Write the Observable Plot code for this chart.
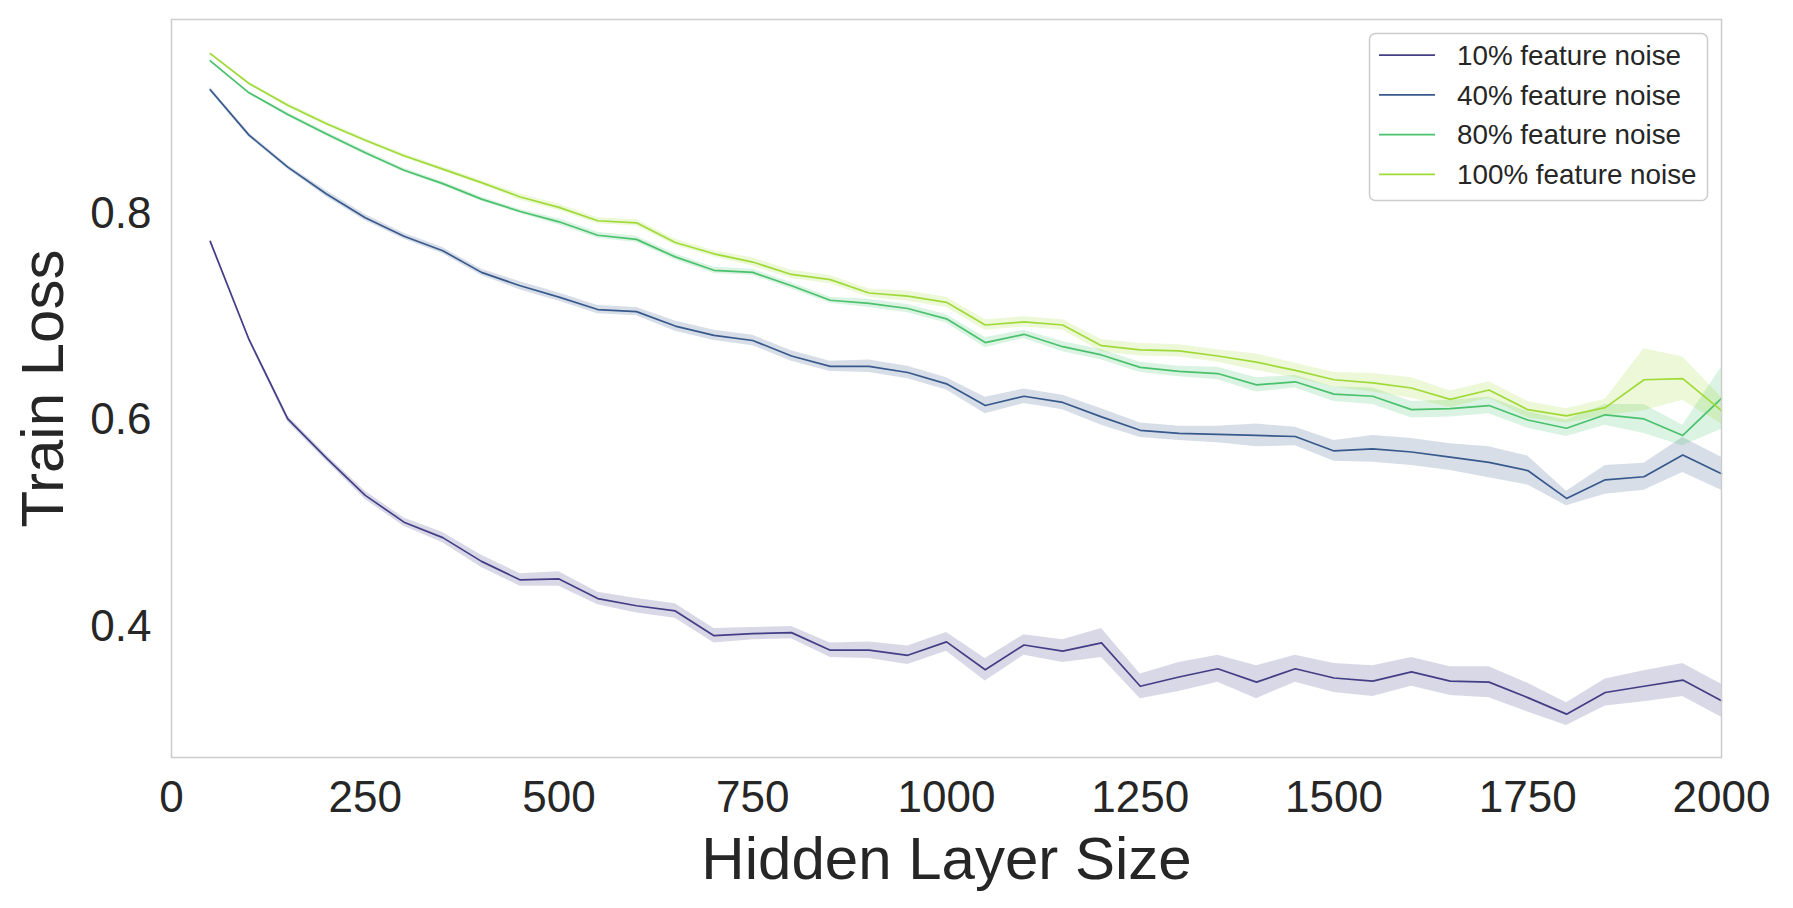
<!DOCTYPE html>
<html><head><meta charset="utf-8">
<script src="https://cdn.jsdelivr.net/npm/d3@7"></script>
<script src="https://cdn.jsdelivr.net/npm/@observablehq/plot@0.6"></script>
<style>html,body{margin:0;padding:0;background:#fff;}</style>
</head><body><div id="chart"></div>
<script>
const hiddenSizes = [50,100,150,200,250,300,350,400,450,500,550,600,650,700,750,800,850,900,950,1000,
  1050,1100,1150,1200,1250,1300,1350,1400,1450,1500,1550,1600,1650,1700,1750,1800,1850,1900,1950,2000];

const seriesNames = ["10% feature noise","40% feature noise","80% feature noise","100% feature noise"];
const seriesColors = ["#433e85","#38598c","#4ac16d","#a0da39"];

const loss10 = [0.773,0.678,0.601,0.563,0.527,0.501,0.486,0.463,0.445,0.446,0.427,0.420,0.415,0.391,0.393,0.394,0.377,0.377,0.372,0.385,
  0.358,0.382,0.376,0.384,0.342,0.351,0.359,0.346,0.359,0.350,0.347,0.356,0.347,0.346,0.331,0.315,0.336,0.342,0.348,0.328];
const loss40 = [0.920,0.876,0.845,0.819,0.796,0.778,0.764,0.743,0.730,0.719,0.707,0.705,0.691,0.682,0.677,0.662,0.652,0.652,0.646,0.635,
  0.614,0.623,0.617,0.603,0.590,0.587,0.586,0.585,0.584,0.570,0.572,0.569,0.564,0.559,0.551,0.524,0.542,0.545,0.566,0.548];
const loss80 = [0.948,0.917,0.896,0.877,0.859,0.842,0.829,0.814,0.802,0.792,0.779,0.775,0.758,0.745,0.743,0.730,0.716,0.713,0.708,0.698,
  0.675,0.683,0.671,0.663,0.651,0.647,0.645,0.634,0.637,0.625,0.623,0.610,0.611,0.614,0.600,0.592,0.605,0.601,0.585,0.621];
const loss100 = [0.955,0.926,0.905,0.887,0.871,0.856,0.843,0.830,0.816,0.806,0.793,0.791,0.772,0.761,0.753,0.741,0.736,0.723,0.720,0.714,
  0.692,0.695,0.692,0.672,0.668,0.667,0.662,0.656,0.648,0.639,0.636,0.631,0.620,0.629,0.610,0.604,0.612,0.639,0.640,0.609];

const err10 = [0.002,0.002,0.003,0.003,0.004,0.004,0.005,0.006,0.006,0.007,0.006,0.007,0.007,0.007,0.006,0.006,0.007,0.008,0.009,0.009,
  0.011,0.010,0.011,0.014,0.012,0.014,0.013,0.016,0.013,0.014,0.015,0.014,0.014,0.015,0.014,0.011,0.013,0.015,0.016,0.016];
const err40 = [0.002,0.002,0.002,0.003,0.003,0.003,0.003,0.003,0.004,0.004,0.004,0.004,0.005,0.005,0.005,0.005,0.005,0.006,0.006,0.006,
  0.008,0.007,0.007,0.008,0.007,0.007,0.008,0.011,0.009,0.010,0.013,0.013,0.013,0.015,0.014,0.007,0.014,0.013,0.017,0.016];
const err80 = [0.001,0.001,0.002,0.002,0.002,0.002,0.002,0.002,0.002,0.003,0.003,0.003,0.003,0.003,0.003,0.003,0.003,0.004,0.004,0.004,
  0.005,0.004,0.005,0.005,0.005,0.005,0.006,0.007,0.006,0.007,0.008,0.008,0.008,0.008,0.008,0.008,0.010,0.014,0.010,0.030];
const err100 = [0.001,0.001,0.002,0.002,0.002,0.002,0.002,0.002,0.003,0.003,0.003,0.003,0.003,0.003,0.004,0.004,0.004,0.004,0.005,0.005,
  0.005,0.005,0.005,0.006,0.006,0.006,0.006,0.008,0.007,0.007,0.009,0.010,0.008,0.008,0.008,0.007,0.008,0.030,0.021,0.013];

const xTicks = [0,250,500,750,1000,1250,1500,1750,2000];
const yTicks = [0.4,0.6,0.8];

const means = [loss10, loss40, loss80, loss100];
const errs = [err10, err40, err80, err100];
const rows = [];
seriesNames.forEach((name, i) => {
  hiddenSizes.forEach((x, j) => {
    rows.push({series: name, x, y: means[i][j], lo: means[i][j] - errs[i][j], hi: means[i][j] + errs[i][j]});
  });
});

const textColor = "#262626";
const chart = Plot.plot({
  width: 1793, height: 908,
  marginLeft: 171, marginRight: 72, marginTop: 19, marginBottom: 151,
  style: {fontFamily: "'Liberation Sans', Arial, sans-serif", color: textColor, background: "#fff", overflow: "visible"},
  x: {domain: [0, 2000]},
  y: {domain: [0.273, 0.988]},
  color: {domain: seriesNames, range: seriesColors},
  marks: [
    Plot.areaY(rows, {x: "x", y1: "lo", y2: "hi", z: "series", fill: "series", fillOpacity: 0.2}),
    Plot.lineY(rows, {x: "x", y: "y", z: "series", stroke: "series", strokeWidth: 1.7}),
    Plot.frame({stroke: "#cccccc", strokeWidth: 1.5}),
    Plot.axisX({ticks: xTicks, tickSize: 0, tickPadding: 23, fontSize: 44, label: null, tickFormat: d => String(d), fill: textColor}),
    Plot.axisY({ticks: yTicks, tickSize: 0, tickPadding: 20, fontSize: 44, label: null, tickFormat: d => d.toFixed(1), fill: textColor}),
    Plot.text(["Hidden Layer Size"], {text: d => d, frameAnchor: "bottom", lineAnchor: "top", dy: 79, fontSize: 60, fill: textColor}),
    Plot.text(["Train Loss"], {text: d => d, frameAnchor: "left", textAnchor: "middle", rotate: -90, dx: -128, fontSize: 60, fill: textColor})
  ]
});
document.getElementById("chart").appendChild(chart);

// legend inside the plot (upper right)
const svg = d3.select(chart);
const lg = svg.append("g").attr("font-family", "'Liberation Sans', Arial, sans-serif").attr("text-anchor", "start");
lg.append("rect").attr("x", 1369.5).attr("y", 33.5).attr("width", 338).attr("height", 167).attr("rx", 6)
  .attr("fill", "white").attr("fill-opacity", 0.8).attr("stroke", "#cccccc").attr("stroke-width", 1.5);
seriesNames.forEach((name, i) => {
  const y = 55.2 + i * 39.7;
  lg.append("line").attr("x1", 1379).attr("x2", 1435).attr("y1", y).attr("y2", y)
    .attr("stroke", seriesColors[i]).attr("stroke-width", 1.8);
  lg.append("text").attr("x", 1457).attr("y", y).attr("dy", "0.35em").attr("font-size", 27.8)
    .attr("text-anchor", "start").attr("fill", textColor).text(name);
});
</script>
</body></html>
